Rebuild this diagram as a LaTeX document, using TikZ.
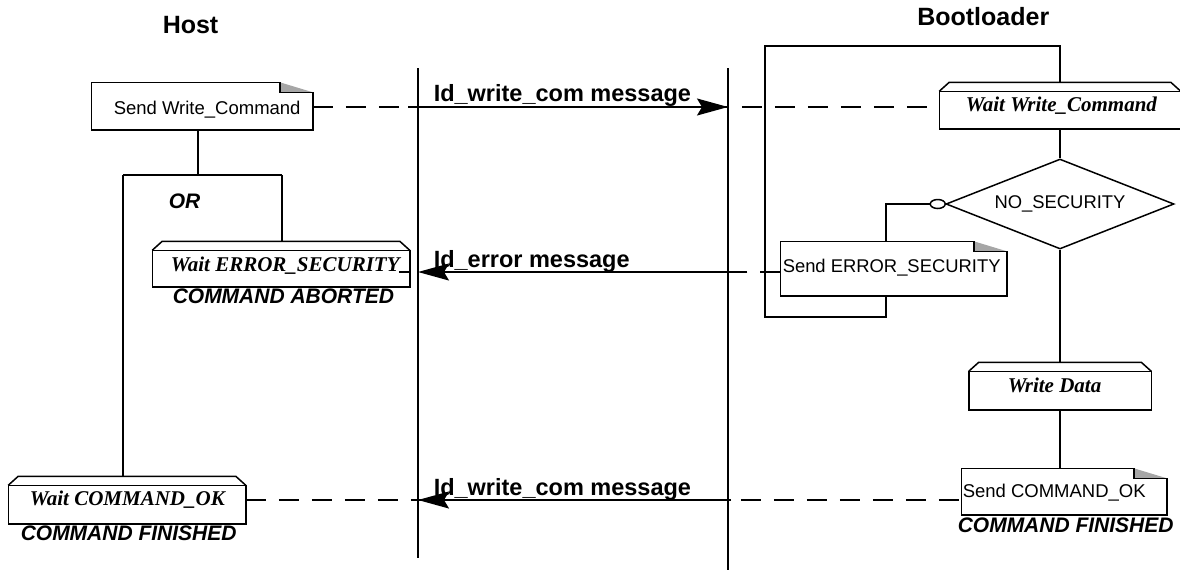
\documentclass[tikz,border=0pt]{standalone}
\usepackage{fontspec}
\setmainfont{Liberation Sans}
\newfontfamily\tms{Liberation Serif}
\usetikzlibrary{shapes.geometric,arrows.meta}
\newcommand{\fs}[1]{\fontsize{#1}{#1}\selectfont}
\newcommand{\dogbox}[1]{%
  \fill[gray!70] ([xshift=-33pt]#1.north east) -- ([xshift=-33pt,yshift=-10pt]#1.north east) -- ([yshift=-10pt]#1.north east) -- cycle;
  \draw (#1.north west) -- ([xshift=-33pt]#1.north east) -- ([xshift=-33pt,yshift=-10pt]#1.north east) -- ([yshift=-10pt]#1.north east) -- (#1.south east) -- (#1.south west) -- cycle;}
\newcommand{\bevelbox}[1]{%
  \draw (#1.north west) -- ([xshift=10pt,yshift=9pt]#1.north west) -- ([xshift=-10pt,yshift=9pt]#1.north east) -- (#1.north east);
  \draw (#1.north west) rectangle (#1.south east);}
\begin{document}
\begin{tikzpicture}[x=1pt,y=-1pt,line width=1.5pt,
  txt/.style={inner sep=0pt,anchor=base west},
  box/.style={rectangle,inner sep=0pt,draw=none},
  dsh/.style={dash pattern=on 20pt off 13pt},
  msg/.style={-{Stealth[length=31pt,width=17pt,inset=5pt]}},
  sans/.style={font=\fs{18.5}},
  sbi/.style={font=\bfseries\itshape\fs{21}},
  tbi/.style={font=\tms\bfseries\itshape\fs{21}},
  msgt/.style={font=\bfseries\fs{23.5}}]
\useasboundingbox (0,0) rectangle (1180,571);

% headers
\node[txt,font=\bfseries\fs{25}] (host) at (162,33) {Host};
\node[inner sep=0pt,anchor=base east,font=\bfseries\fs{25}] (boot) at (1050,25) {Bootloader};

% lifelines
\coordinate (ll1) at (418,68);
\coordinate (ll2) at (418,558);
\coordinate (rl1) at (728,68);
\coordinate (rl2) at (728,570);
\draw (ll1) -- (ll2);
\draw (rl1) -- (rl2);

% boxes
\node[box,minimum width=220pt,minimum height=46pt] (swc) at (202,106) {};
\node[box,minimum width=256pt,minimum height=35pt] (wes) at (281,268.5) {};
\node[box,minimum width=236pt,minimum height=37pt] (wco) at (127,504.5) {};
\node[box,minimum width=240pt,minimum height=36pt] (wwc) at (1060,110) {};
\node[box,minimum width=181pt,minimum height=37pt] (wd) at (1060,390.5) {};
\node[box,minimum width=225pt,minimum height=53pt] (ses) at (893.5,268.5) {};
\node[box,minimum width=204pt,minimum height=45pt] (sco) at (1064,491.5) {};
\node[diamond,draw,fill=white,aspect=2.533,minimum width=228pt,minimum height=90pt,inner sep=0pt,font=\fs{18.4}] (dia) at (1060,204) {NO\_SECURITY};
\node[ellipse,draw,fill=white,minimum width=15pt,minimum height=9pt,inner sep=0pt] (cir) at ([xshift=-7.5pt]dia.west) {};

\dogbox{swc}
\dogbox{ses}
\dogbox{sco}
\bevelbox{wes}
\bevelbox{wco}
\bevelbox{wwc}
\bevelbox{wd}

\coordinate (wesB) at ([yshift=9pt]wes.north);
\coordinate (wcoB) at ([yshift=9pt]wco.north);
\coordinate (wwcB) at ([yshift=9pt]wwc.north);
\coordinate (wdB) at ([yshift=9pt]wd.north);

% texts
\node[txt,sans] (t1) at (113,114) {Send Write\_Command};
\node[txt,sbi] (tor) at (168,208) {OR};
\node[txt,tbi] (t2) at (170,271) {Wait ERROR\_SECURITY};
\node[txt,sbi] (t3) at (172,303) {COMMAND ABORTED};
\node[txt,tbi] (t4) at (29,505) {Wait COMMAND\_OK};
\node[txt,sbi] (t5) at (20,540) {COMMAND FINISHED};
\node[txt,tbi] (t6) at (965,111) {Wait Write\_Command};
\node[txt,font=\fs{18.4}] (t7) at (782,272) {Send ERROR\_SECURITY};
\node[txt,tbi] (t8) at (1007,392) {Write Data};
\node[txt,sans] (t9) at (962,497) {Send COMMAND\_OK};
\node[txt,sbi] (t10) at (957,532) {COMMAND FINISHED};

% host structure
\coordinate (orL) at (123,175);
\coordinate (orR) at (282,175);
\coordinate (orT) at (198,175);
\draw (swc.south -| orT) -- (orT);
\draw (orL) -- (orR);
\draw (orL) -- (orL |- wcoB);
\draw (orR) -- (orR |- wesB);

% bootloader structure
\coordinate (lp1) at (886,317);
\coordinate (lp2) at (765,317);
\coordinate (lp3) at (765,46);
\coordinate (lp4) at (1060,46);
\draw (ses.south -| lp1) -- (lp1) -- (lp2) -- (lp3) -- (lp4) -- (wwcB);
\draw (wwc.south) -- (dia.north);
\draw (dia.south) -- (wdB);
\draw (wd.south) -- (wd.south |- sco.north);
\draw (cir.west) -- (cir.west -| lp1) -- (lp1 |- ses.north);

% messages
\coordinate (a1) at (418,107);
\coordinate (b1) at (728,107);
\coordinate (a2) at (418,272);
\coordinate (b2) at (728,272);
\coordinate (a3) at (418,500);
\coordinate (b3) at (728,500);
\draw[dsh] (swc.east |- a1) -- (wwc.west |- a1);
\draw[msg,shorten <=-10pt] (a1) -- (b1);
\draw[dsh] (ses.west |- b2) -- (b2);
\draw[msg,shorten <=-9pt] (b2) -- (a2);
\draw ([xshift=-11pt]wes.east |- a2) -- (wes.east |- a2);
\draw[dsh] (wco.east |- a3) -- (sco.west |- a3);
\draw[msg,shorten <=-3pt] (b3) -- (a3);
\node[txt,msgt] (m1) at (433,101) {Id\_write\_com message};
\node[txt,msgt] (m2) at (433,267) {Id\_error message};
\node[txt,msgt] (m3) at (433,495) {Id\_write\_com message};
\end{tikzpicture}
\end{document}
